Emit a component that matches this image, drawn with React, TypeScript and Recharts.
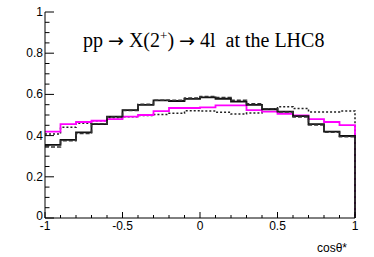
import React from 'react';
import { LineChart, Line, XAxis, YAxis } from 'recharts';

// bin edges of cos(theta*) and histogram contents (20 bins)
const xEdges = [-1, -0.9, -0.8, -0.7, -0.6, -0.5, -0.4, -0.3, -0.2, -0.1, 0, 0.1, 0.2, 0.3, 0.4, 0.5, 0.6, 0.7, 0.8, 0.9, 1];
const solid = [0.355, 0.379, 0.416, 0.456, 0.492, 0.524, 0.549, 0.571, 0.568, 0.578, 0.586, 0.579, 0.565, 0.549, 0.528, 0.516, 0.495, 0.456, 0.419, 0.398];
const dashed = [0.345, 0.375, 0.41, 0.458, 0.49, 0.522, 0.552, 0.572, 0.572, 0.582, 0.59, 0.585, 0.572, 0.555, 0.53, 0.514, 0.49, 0.452, 0.416, 0.395];
const dotted = [0.408, 0.44, 0.46, 0.472, 0.487, 0.492, 0.497, 0.503, 0.508, 0.521, 0.519, 0.513, 0.505, 0.51, 0.529, 0.54, 0.532, 0.515, 0.515, 0.519];
const magenta = [0.419, 0.456, 0.466, 0.472, 0.48, 0.492, 0.5, 0.519, 0.534, 0.534, 0.537, 0.547, 0.547, 0.524, 0.516, 0.506, 0.498, 0.48, 0.466, 0.451];

const xTicks = [-1, -0.9, -0.8, -0.7, -0.6, -0.5, -0.4, -0.3, -0.2, -0.1, 0, 0.1, 0.2, 0.3, 0.4, 0.5, 0.6, 0.7, 0.8, 0.9, 1];
const xLabels = ['-1', '-0.5', '0', '0.5', '1'];
const yTicks = [0, 0.05, 0.1, 0.15, 0.2, 0.25, 0.3, 0.35, 0.4, 0.45, 0.5, 0.55, 0.6, 0.65, 0.7, 0.75, 0.8, 0.85, 0.9, 0.95, 1];
const yLabels = ['0', '0.2', '0.4', '0.6', '0.8', '1'];

// step rows: value held from each edge to the next, then drop to 0 at x=1
const data = [
  ...solid.map((v, i) => ({ x: xEdges[i], solid: v, dashed: dashed[i], dotted: dotted[i], magenta: magenta[i] })),
  { x: xEdges[20], solid: solid[19], dashed: dashed[19], dotted: dotted[19], magenta: magenta[19] },
  { x: xEdges[20], solid: 0, dashed: 0, dotted: 0, magenta: 0 },
];

const font = '"Liberation Sans", Arial, sans-serif';
const serif = '"Liberation Serif", "Times New Roman", serif';
const arrowFont = '"DejaVu Sans", sans-serif';

const fmt = (v: number) => String(Math.round(v * 100) / 100);
const isLabel = (v: number, labels: string[]) => labels.includes(fmt(v));

const BottomTick = ({ x, y, payload }: any) => {
  const major = isLabel(payload.value, xLabels);
  return (
    <g>
      <line x1={x} x2={x} y1={y} y2={y - (major ? 6 : 3)} stroke="#000" />
      {major && (
        <text x={x} y={y + 12} textAnchor="middle" fontSize={12} fontFamily={font} fill="#000">
          {fmt(payload.value)}
        </text>
      )}
    </g>
  );
};

const TopTick = ({ x, y, payload }: any) => {
  const major = isLabel(payload.value, xLabels);
  return <line x1={x} x2={x} y1={y} y2={y + (major ? 6 : 3)} stroke="#000" />;
};

const LeftTick = ({ x, y, payload }: any) => {
  const major = isLabel(payload.value, yLabels);
  const isZero = payload.value === 0;
  return (
    <g>
      <line x1={x} x2={x + (major ? 9 : 4.5)} y1={y} y2={y} stroke="#000" />
      {major && (
        <text x={x - 2} y={y + (isZero ? 2 : 4)} textAnchor="end" fontSize={12} fontFamily={font} fill="#000">
          {fmt(payload.value)}
        </text>
      )}
    </g>
  );
};

const RightTick = ({ x, y, payload }: any) => {
  const major = isLabel(payload.value, yLabels);
  return <line x1={x} x2={x - (major ? 9 : 4.5)} y1={y} y2={y} stroke="#000" />;
};

export default function App() {
  return (
    <div style={{ position: 'absolute', left: 0, top: 0, width: 374, height: 257, background: '#fff' }}>
      <LineChart width={374} height={257} data={data} margin={{ top: 12, right: 19, left: 0, bottom: 0 }}>
        <XAxis xAxisId="b" dataKey="x" type="number" domain={[-1, 1]} ticks={xTicks} interval={0}
          height={39} tickSize={0} tickMargin={0} tickLine={false} axisLine={{ stroke: '#000' }} tick={<BottomTick />} />
        <XAxis xAxisId="t" orientation="top" dataKey="x" type="number" domain={[-1, 1]} ticks={xTicks} interval={0}
          height={0} tickSize={0} tickMargin={0} tickLine={false} axisLine={{ stroke: '#000' }} tick={<TopTick />} />
        <YAxis yAxisId="l" type="number" domain={[0, 1]} ticks={yTicks} interval={0} width={45}
          tickSize={0} tickMargin={0} tickLine={false} axisLine={{ stroke: '#000' }} tick={<LeftTick />} />
        <YAxis yAxisId="r" orientation="right" type="number" domain={[0, 1]} ticks={yTicks} interval={0} width={0}
          tickSize={0} tickMargin={0} tickLine={false} axisLine={{ stroke: '#000' }} tick={<RightTick />} />

        <Line xAxisId="b" yAxisId="l" type="stepAfter" dataKey="dotted" stroke="#222" strokeWidth={1.5}
          strokeDasharray="2 2" dot={false} isAnimationActive={false} />
        <Line xAxisId="b" yAxisId="l" type="stepAfter" dataKey="magenta" stroke="#ff00ff" strokeWidth={1.8}
          dot={false} isAnimationActive={false} />
        <Line xAxisId="b" yAxisId="l" type="stepAfter" dataKey="solid" stroke="#111" strokeWidth={1.8}
          dot={false} isAnimationActive={false} />
        <Line xAxisId="b" yAxisId="l" type="stepAfter" dataKey="dashed" stroke="#333" strokeWidth={1.5}
          strokeDasharray="4 2" dot={false} isAnimationActive={false} />
      </LineChart>
      <svg width={374} height={257} style={{ position: 'absolute', left: 0, top: 0, pointerEvents: 'none' }}>
        <text x={83} y={47} fontSize={20} fontFamily={serif} fill="#000" style={{ whiteSpace: 'pre' }}>
          pp <tspan fontFamily={arrowFont} fontSize={19}>→</tspan> X(2<tspan dy={-7} fontSize={13}>+</tspan>
          <tspan dy={7}>) </tspan><tspan fontFamily={arrowFont} fontSize={19}>→</tspan>
          <tspan>{' 4l\u00A0\u00A0at the LHC8'}</tspan>
        </text>
        <text x={347} y={252} textAnchor="end" fontSize={12} fontFamily={font} fill="#000">cosθ*</text>
      </svg>
    </div>
  );
}
